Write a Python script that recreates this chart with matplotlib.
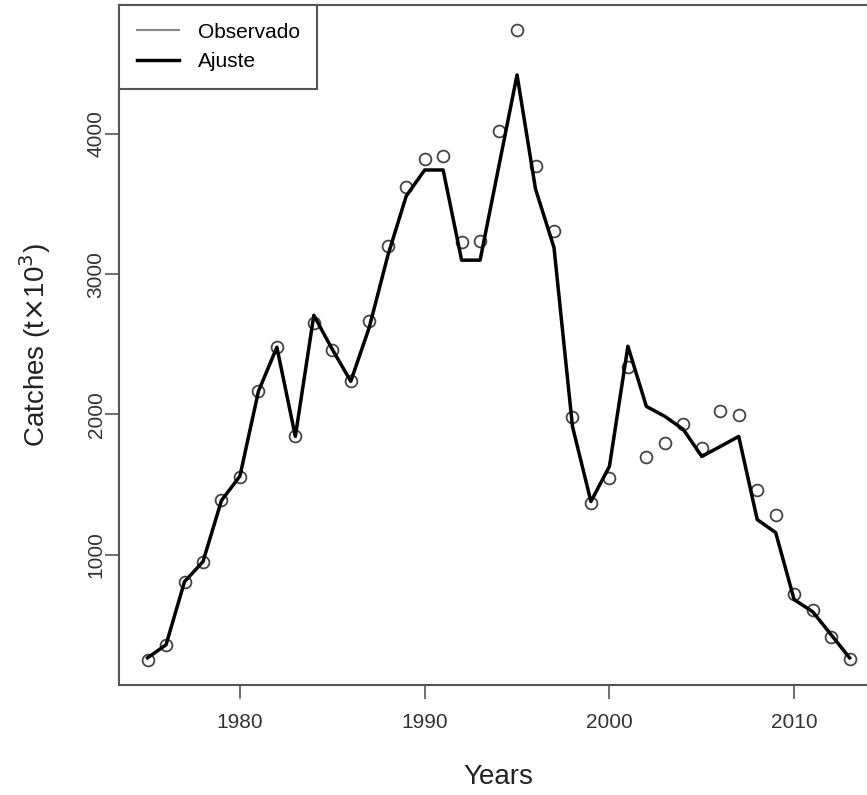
#!/usr/bin/env python3

import matplotlib

matplotlib.use("Agg")

import numpy as np
from matplotlib import pyplot as plt
from matplotlib.lines import Line2D


# Data
years = list(range(1975, 2014))

observado = [
    250, 357, 807, 950, 1386, 1550, 2164, 2479, 1846, 2650,
    2457, 2236, 2664, 3200, 3621, 3818, 3843, 3229, 3236, 4021,
    4740, 3771, 3307, 1979, 1371, 1543, 2336, 1693, 1793, 1929,
    1757, 2021, 1993, 1464, 1286, 721, 607, 414, 257,
]

ajuste = [
    264, 357, 807, 950, 1386, 1560, 2164, 2479, 1843, 2707,
    2464, 2236, 2620, 3130, 3557, 3743, 3743, 3100, 3100, 3760,
    4421, 3607, 3190, 1914, 1379, 1629, 2486, 2057, 1986, 1893,
    1700, 1771, 1843, 1250, 1157, 679, 593, 429, 264,
]

xticks = [1980, 1990, 2000, 2010]
yticks = [1000, 2000, 3000, 4000]
legend_labels = ["Observado", "Ajuste"]
# ------------------------------------------------------

axis_grey = "#555555"

params = {
    "font.family": ["Liberation Sans", "DejaVu Sans"],
    "font.size": 15,
    "axes.linewidth": 1.5,
    "axes.edgecolor": axis_grey,
    "xtick.direction": "out",
    "ytick.direction": "out",
    "xtick.major.size": 10,
    "ytick.major.size": 10,
    "xtick.major.width": 1.2,
    "ytick.major.width": 1.2,
    "xtick.color": axis_grey,
    "ytick.color": axis_grey,
    "xtick.labelcolor": "#333333",
    "ytick.labelcolor": "#333333",
    "xtick.labelsize": 15,
    "ytick.labelsize": 15,
}
matplotlib.rcParams.update(params)

fig = plt.figure(figsize=(8.67, 7.95), dpi=100)
# R-style plot region, right edge cropped off in the reference
ax = fig.add_axes([0.1378, 0.1384, 0.8745, 0.8553])

ax.plot(years, observado, linestyle="none", marker="o", markersize=8.5,
        markerfacecolor="none", markeredgecolor="#444444", markeredgewidth=1.3)
ax.plot(years, ajuste, color="black", linewidth=2.5)

ax.margins(x=0.04, y=0.04)
ax.set_xticks(xticks)
ax.set_yticks(yticks)
ax.tick_params(axis="x", pad=10)
ax.tick_params(axis="y", pad=0)
for lab in ax.get_yticklabels():
    lab.set_rotation(90)
    lab.set_va("center")

ax.set_xlabel("Years", fontsize=20, color="#222222", labelpad=23)
ax.set_ylabel(r"Catches (t$\times$10$^3$)", fontsize=20, color="#222222",
              labelpad=24)

handles = [
    Line2D([], [], color="#888888", linewidth=1.5),
    Line2D([], [], color="black", linewidth=2.5),
]
leg = ax.legend(handles, legend_labels, loc="upper left", fontsize=15,
                frameon=True, fancybox=False, framealpha=1.0,
                edgecolor=axis_grey, borderaxespad=0.0, borderpad=0.85,
                handlelength=2.0, handletextpad=0.9, labelspacing=0.5)
leg.get_frame().set_linewidth(1.5)

plt.savefig("out.png")
print("saved out.png")
